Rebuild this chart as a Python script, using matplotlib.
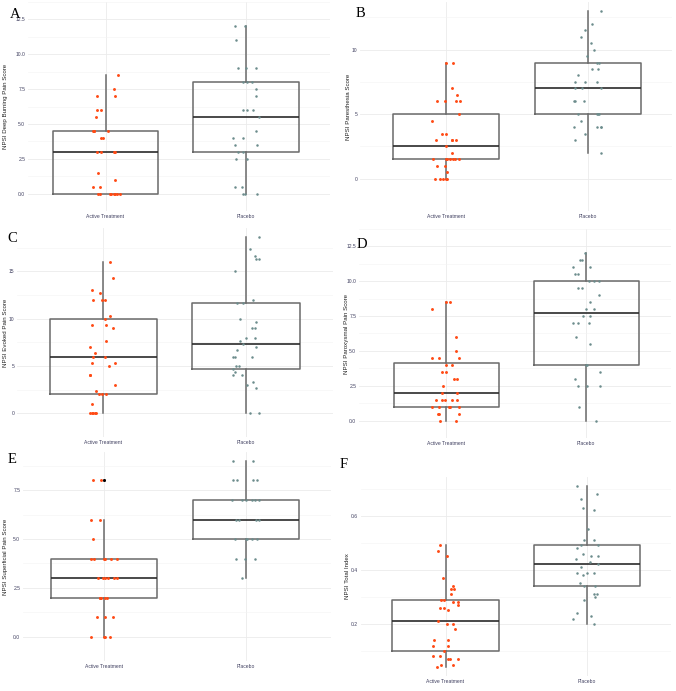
import numpy as np
import matplotlib
matplotlib.use('Agg')
import matplotlib.pyplot as plt

groups = ['Active Treatment', 'Placebo']

# A - deep burning pain
a_act = [8.5, 7.5, 7, 7, 6, 6, 5.5, 4.5, 4.5, 4.5, 4.5, 4, 4, 3, 3, 3, 3, 1.5, 1, 0.5, 0.5, 0, 0, 0, 0, 0, 0, 0, 0]
a_act_jit = [0.09, 0.06, -0.06, 0.07, -0.06, -0.03, -0.07, -0.09, -0.08, 0.02, -0.08, -0.03, -0.02, -0.06, -0.03, 0.06, 0.07,
             -0.05, 0.07, -0.09, -0.04, -0.05, -0.04, 0.03, 0.04, 0.06, 0.07, 0.08, 0.1]
a_pla = [12, 12, 11, 9, 9, 9, 8, 8, 8, 7.5, 7, 6, 6, 6, 5.5, 4.5, 4, 4, 3.5, 3.5, 3, 3, 2.5, 2.5, 0.5, 0.5, 0, 0, 0]
a_pla_jit = [-0.08, -0.01, -0.07, -0.06, 0.0, 0.07, -0.02, 0.01, 0.04, 0.07, 0.07, -0.02, 0.01, 0.05, 0.09, 0.07, -0.09, -0.02,
             -0.08, 0.08, -0.06, -0.02, -0.07, 0.01, -0.08, -0.03, -0.02, -0.01, 0.08]

# B - paresthesia
b_act = [9, 9, 7, 6.5, 6, 6, 6, 6, 5, 4.5, 3.5, 3.5, 3, 3, 3, 3, 2.5, 2, 1.5, 1.5, 1.5, 1.5, 1.5, 1.5, 1.5, 1, 1, 0.5, 0, 0, 0, 0, 0]
b_act_jit = [0.0, 0.05, 0.04, 0.08, -0.06, -0.01, 0.07, 0.1, 0.09, -0.1, -0.03, 0.0, -0.07, 0.04, 0.04, 0.07, 0.0, 0.04, -0.09, 0.0,
             0.01, 0.05, 0.06, 0.09, 0.03, -0.06, -0.01, 0.01, -0.08, -0.04, 0.0, 0.01, -0.02]
b_pla = [13, 12, 11.5, 11, 10.5, 10, 9.5, 9, 9, 8.5, 8.5, 8, 7.5, 7.5, 7.5, 7, 7, 7, 6, 6, 6, 5, 5, 5, 5, 4.5, 4, 4, 4, 4, 3.5, 3, 2]
b_pla_jit = [0.09, 0.03, -0.02, -0.05, 0.02, 0.04, -0.01, 0.06, 0.08, 0.03, 0.07, -0.07, -0.09, -0.02, 0.06, -0.09, -0.04, 0.09,
             -0.1, -0.09, -0.03, -0.07, 0.06, 0.08, 0.07, -0.05, -0.1, 0.06, 0.09, 0.09, -0.02, -0.09, 0.09]

# C - evoked pain
c_act = [16, 14.33, 13, 12.67, 12, 12, 12, 10.33, 10, 9.33, 9.33, 9, 7.67, 7, 6.33, 6, 6, 5.33, 5.33, 5, 4, 4, 3, 2.33,
         2, 2, 2, 1, 0, 0, 0, 0, 0]
c_act_jit = [0.05, 0.07, -0.08, -0.02, -0.07, -0.01, 0.01, 0.05, 0.01, -0.08, 0.02, 0.07, 0.02, -0.09, -0.06, -0.07, 0.01, -0.08,
             0.08, 0.04, -0.09, -0.09, 0.08, -0.05, -0.03, 0.02, -0.01, -0.08, -0.09, -0.07, -0.06, -0.05, -0.08]
c_pla = [18.67, 17.33, 16.67, 16.33, 16.33, 15, 12, 11.67, 11.67, 10, 9.67, 9, 9, 8, 8, 7.67, 7.33, 7, 6.67, 6, 6, 6, 5, 5,
         4.67, 4.33, 4, 4, 3.33, 3, 2.67, 0, 0]
c_pla_jit = [0.09, 0.03, 0.06, 0.07, 0.09, -0.08, 0.05, -0.06, -0.02, -0.04, 0.07, 0.04, 0.06, 0.0, 0.06, -0.04, -0.02, 0.07,
             -0.06, -0.09, -0.08, 0.04, -0.07, -0.05, -0.09, -0.08, -0.09, -0.03, 0.05, 0.01, 0.07, 0.03, 0.09]

# D - paroxysmal pain
d_act = [8.5, 8.5, 8, 6, 5, 4.5, 4.5, 4.5, 4, 4, 3.5, 3.5, 3, 3, 2.5, 2, 2, 1.5, 1.5, 1.5, 1.5, 1.5, 1, 1, 1, 1, 1,
         0.5, 0.5, 0.5, 0, 0]
d_act_jit = [0.0, 0.03, -0.1, 0.07, 0.07, -0.1, -0.05, 0.09, 0.04, 0.0, -0.03, 0.0, 0.06, 0.08, -0.02, -0.03, 0.08, -0.07, -0.03,
             -0.01, 0.04, 0.08, -0.1, -0.05, 0.02, 0.03, 0.09, -0.06, -0.05, 0.09, -0.04, 0.07]
d_pla = [12, 11.5, 11.5, 11, 11, 10.5, 10.5, 10, 10, 10, 9.5, 9.5, 9, 8.5, 8, 8, 7.5, 7.5, 7, 7, 7, 6, 5.5, 4, 4, 3.5, 3,
         2.5, 2.5, 2.5, 1, 0]
d_pla_jit = [-0.01, -0.04, -0.03, -0.09, 0.03, -0.08, -0.06, 0.02, 0.06, 0.09, -0.06, -0.03, 0.09, 0.03, 0.0, 0.06, -0.02, 0.03,
             -0.09, -0.06, 0.02, -0.07, 0.03, 0.0, 0.01, 0.1, -0.08, -0.06, 0.01, 0.1, -0.05, 0.07]

# E - superficial pain
e_act = [8, 8, 6, 6, 5, 4, 4, 4, 4, 4, 4, 3, 3, 3, 3, 3, 3, 2, 2, 2, 2, 2, 1, 1, 1, 0, 0, 0, 0]
e_act_jit = [-0.08, -0.02, -0.09, -0.03, -0.08, -0.09, -0.07, 0.0, 0.01, 0.05, 0.09, -0.04, -0.01, 0.01, 0.03, 0.07, 0.09,
             -0.03, -0.02, 0.02, -0.03, 0.01, -0.05, 0.01, 0.06, -0.09, 0.0, 0.01, 0.04]
e_pla = [9, 9, 8, 8, 8, 8, 7, 7, 7, 7, 7, 7, 6, 6, 6, 6, 5, 5, 5, 5, 5, 4, 4, 4, 3]
e_pla_jit = [-0.09, 0.05, -0.09, -0.06, 0.05, 0.08, -0.1, -0.03, 0.0, 0.04, 0.06, 0.09, -0.07, -0.05, 0.07, 0.09, -0.08, 0.0,
             0.01, 0.04, 0.08, -0.07, -0.01, 0.06, -0.03]

# F - total index
f_act = [0.49, 0.47, 0.45, 0.37, 0.34, 0.33, 0.33, 0.31, 0.29, 0.29, 0.28, 0.28, 0.27, 0.26, 0.26, 0.25, 0.21, 0.20, 0.20,
         0.18, 0.14, 0.14, 0.12, 0.12, 0.10, 0.08, 0.08, 0.07, 0.07, 0.07, 0.05, 0.05, 0.04]
f_act_jit = [-0.04, -0.05, 0.01, -0.02, 0.05, 0.04, 0.06, 0.04, -0.03, -0.01, 0.05, 0.09, 0.09, -0.04, -0.01, 0.02, -0.05, 0.01,
             0.05, 0.07, -0.08, 0.02, -0.09, 0.02, -0.01, -0.09, -0.04, 0.02, 0.03, 0.09, 0.05, -0.03, -0.06]
f_pla = [0.71, 0.68, 0.66, 0.63, 0.62, 0.55, 0.51, 0.51, 0.49, 0.49, 0.48, 0.46, 0.45, 0.45, 0.44, 0.43, 0.42, 0.41, 0.39,
         0.39, 0.39, 0.38, 0.35, 0.34, 0.34, 0.31, 0.31, 0.30, 0.29, 0.24, 0.23, 0.22, 0.20]
f_pla_jit = [-0.07, 0.07, -0.04, -0.03, 0.05, 0.01, -0.02, 0.05, -0.04, 0.08, -0.07, -0.03, 0.03, 0.08, -0.08, 0.02, 0.08, -0.04,
             -0.07, 0.0, 0.05, -0.03, -0.05, -0.02, 0.06, 0.05, 0.07, 0.06, -0.02, -0.07, 0.03, -0.1, 0.05]

W, H = 676, 691
act_col = '#ff4a14'
pla_col = '#6c8c8c'
txt_col = '#404060'

# letter, ylabel, data, ticks, tick labels, axes box (px), category centres (px), two y reference points (px, value), letter pos, ylabel x
panels = [
    ('A', 'NPSI Deep Burning Pain Score', (a_act, a_act_jit, a_pla, a_pla_jit),
     [0, 2.5, 5, 7.5, 10, 12.5], ['0.0', '2.5', '5.0', '7.5', '10.0', '12.5'],
     (28, 2, 330, 211), (105.5, 246), ((201, 0), (4, 12.5)), (10, 8), 8),
    ('B', 'NPSI Paresthesia Score', (b_act, b_act_jit, b_pla, b_pla_jit),
     [0, 5, 10], ['0', '5', '10'],
     (360, 2, 672, 211), (446, 588), ((201.3, 0), (55.7, 10)), (356, 7), 351),
    ('C', 'NPSI Evoked Pain Score', (c_act, c_act_jit, c_pla, c_pla_jit),
     [0, 5, 10, 15], ['0', '5', '10', '15'],
     (17, 228, 333, 437), (103.3, 246), ((427.7, 0), (274.7, 15)), (7, 232), 8),
    ('D', 'NPSI Paroxysmal Pain Score', (d_act, d_act_jit, d_pla, d_pla_jit),
     [0, 2.5, 5, 7.5, 10, 12.5], ['0.0', '2.5', '5.0', '7.5', '10.0', '12.5'],
     (359, 229, 671, 438), (446, 586), ((428.3, 0), (270.3, 10)), (357, 238), 349),
    ('E', 'NPSI Superficial Pain Score', (e_act, e_act_jit, e_pla, e_pla_jit),
     [0, 2.5, 5, 7.5], ['0.0', '2.5', '5.0', '7.5'],
     (23, 452, 331, 661), (104, 246), ((651.3, 0), (493.3, 7.5)), (8, 453), 8),
    ('F', 'NPSI Total Index', (f_act, f_act_jit, f_pla, f_pla_jit),
     [0.2, 0.4, 0.6], ['0.2', '0.4', '0.6'],
     (361, 477, 671, 676), (445.5, 587), ((624, 0.2), (515.7, 0.6)), (340, 458), 350),
]

fig = plt.figure(figsize=(W / 100, H / 100), dpi=100)
plt.rcParams['font.family'] = ['Liberation Sans', 'DejaVu Sans']

for letter, ylab, (act, act_j, pla, pla_j), ticks, tlabels, box, xc, yref, lpos, ylx in panels:
    l, t, r, b = box
    ax = fig.add_axes([l / W, 1 - b / H, (r - l) / W, (b - t) / H])

    ax.boxplot([act, pla], positions=[1, 2], widths=0.75, showcaps=False, manage_ticks=False,
               boxprops=dict(color='#6a6a6a', lw=1.1),
               whiskerprops=dict(color='#6a6a6a', lw=1.1),
               medianprops=dict(color='#2a2a2a', lw=1.2),
               flierprops=dict(marker='o', markerfacecolor='black', markeredgewidth=0, markersize=2.0))

    ax.plot(1 + np.array(act_j), act, 'o', color=act_col, markersize=2.1, markeredgewidth=0, zorder=3)
    ax.plot(2 + np.array(pla_j), pla, 'o', color=pla_col, markersize=1.8, markeredgewidth=0, zorder=3)

    ppx = xc[1] - xc[0]
    ax.set_xlim(1 + (l - xc[0]) / ppx, 1 + (r - xc[0]) / ppx)
    (p0, v0), (p1, v1) = yref
    ppy = (p0 - p1) / (v1 - v0)
    ax.set_ylim(v0 - (b - p0) / ppy, v0 + (p0 - t) / ppy)

    # grid like theme_minimal
    step = ticks[1] - ticks[0]
    minor = np.arange(ticks[0] - step / 2, ticks[-1] + step, step)
    ax.set_yticks(ticks, tlabels)
    ax.set_yticks(minor, minor=True)
    ax.set_xticks([1, 2], groups)
    ax.grid(which='major', color='#ebebeb', lw=0.6)
    ax.grid(which='minor', axis='y', color='#f3f3f3', lw=0.4)
    ax.set_axisbelow(True)
    for s in ax.spines.values():
        s.set_visible(False)
    ax.tick_params(which='both', length=0, labelsize=3.6, labelcolor=txt_col, pad=2)

    ax.set_ylabel(ylab, fontsize=4.4, color='#222222')
    ax.yaxis.set_label_coords((ylx - l) / (r - l), 0.5)

    fig.text(lpos[0] / W, 1 - lpos[1] / H, letter, fontsize=10.5, family='Liberation Serif',
             va='top', ha='left', color='black')

fig.savefig('out.png', dpi=100)
